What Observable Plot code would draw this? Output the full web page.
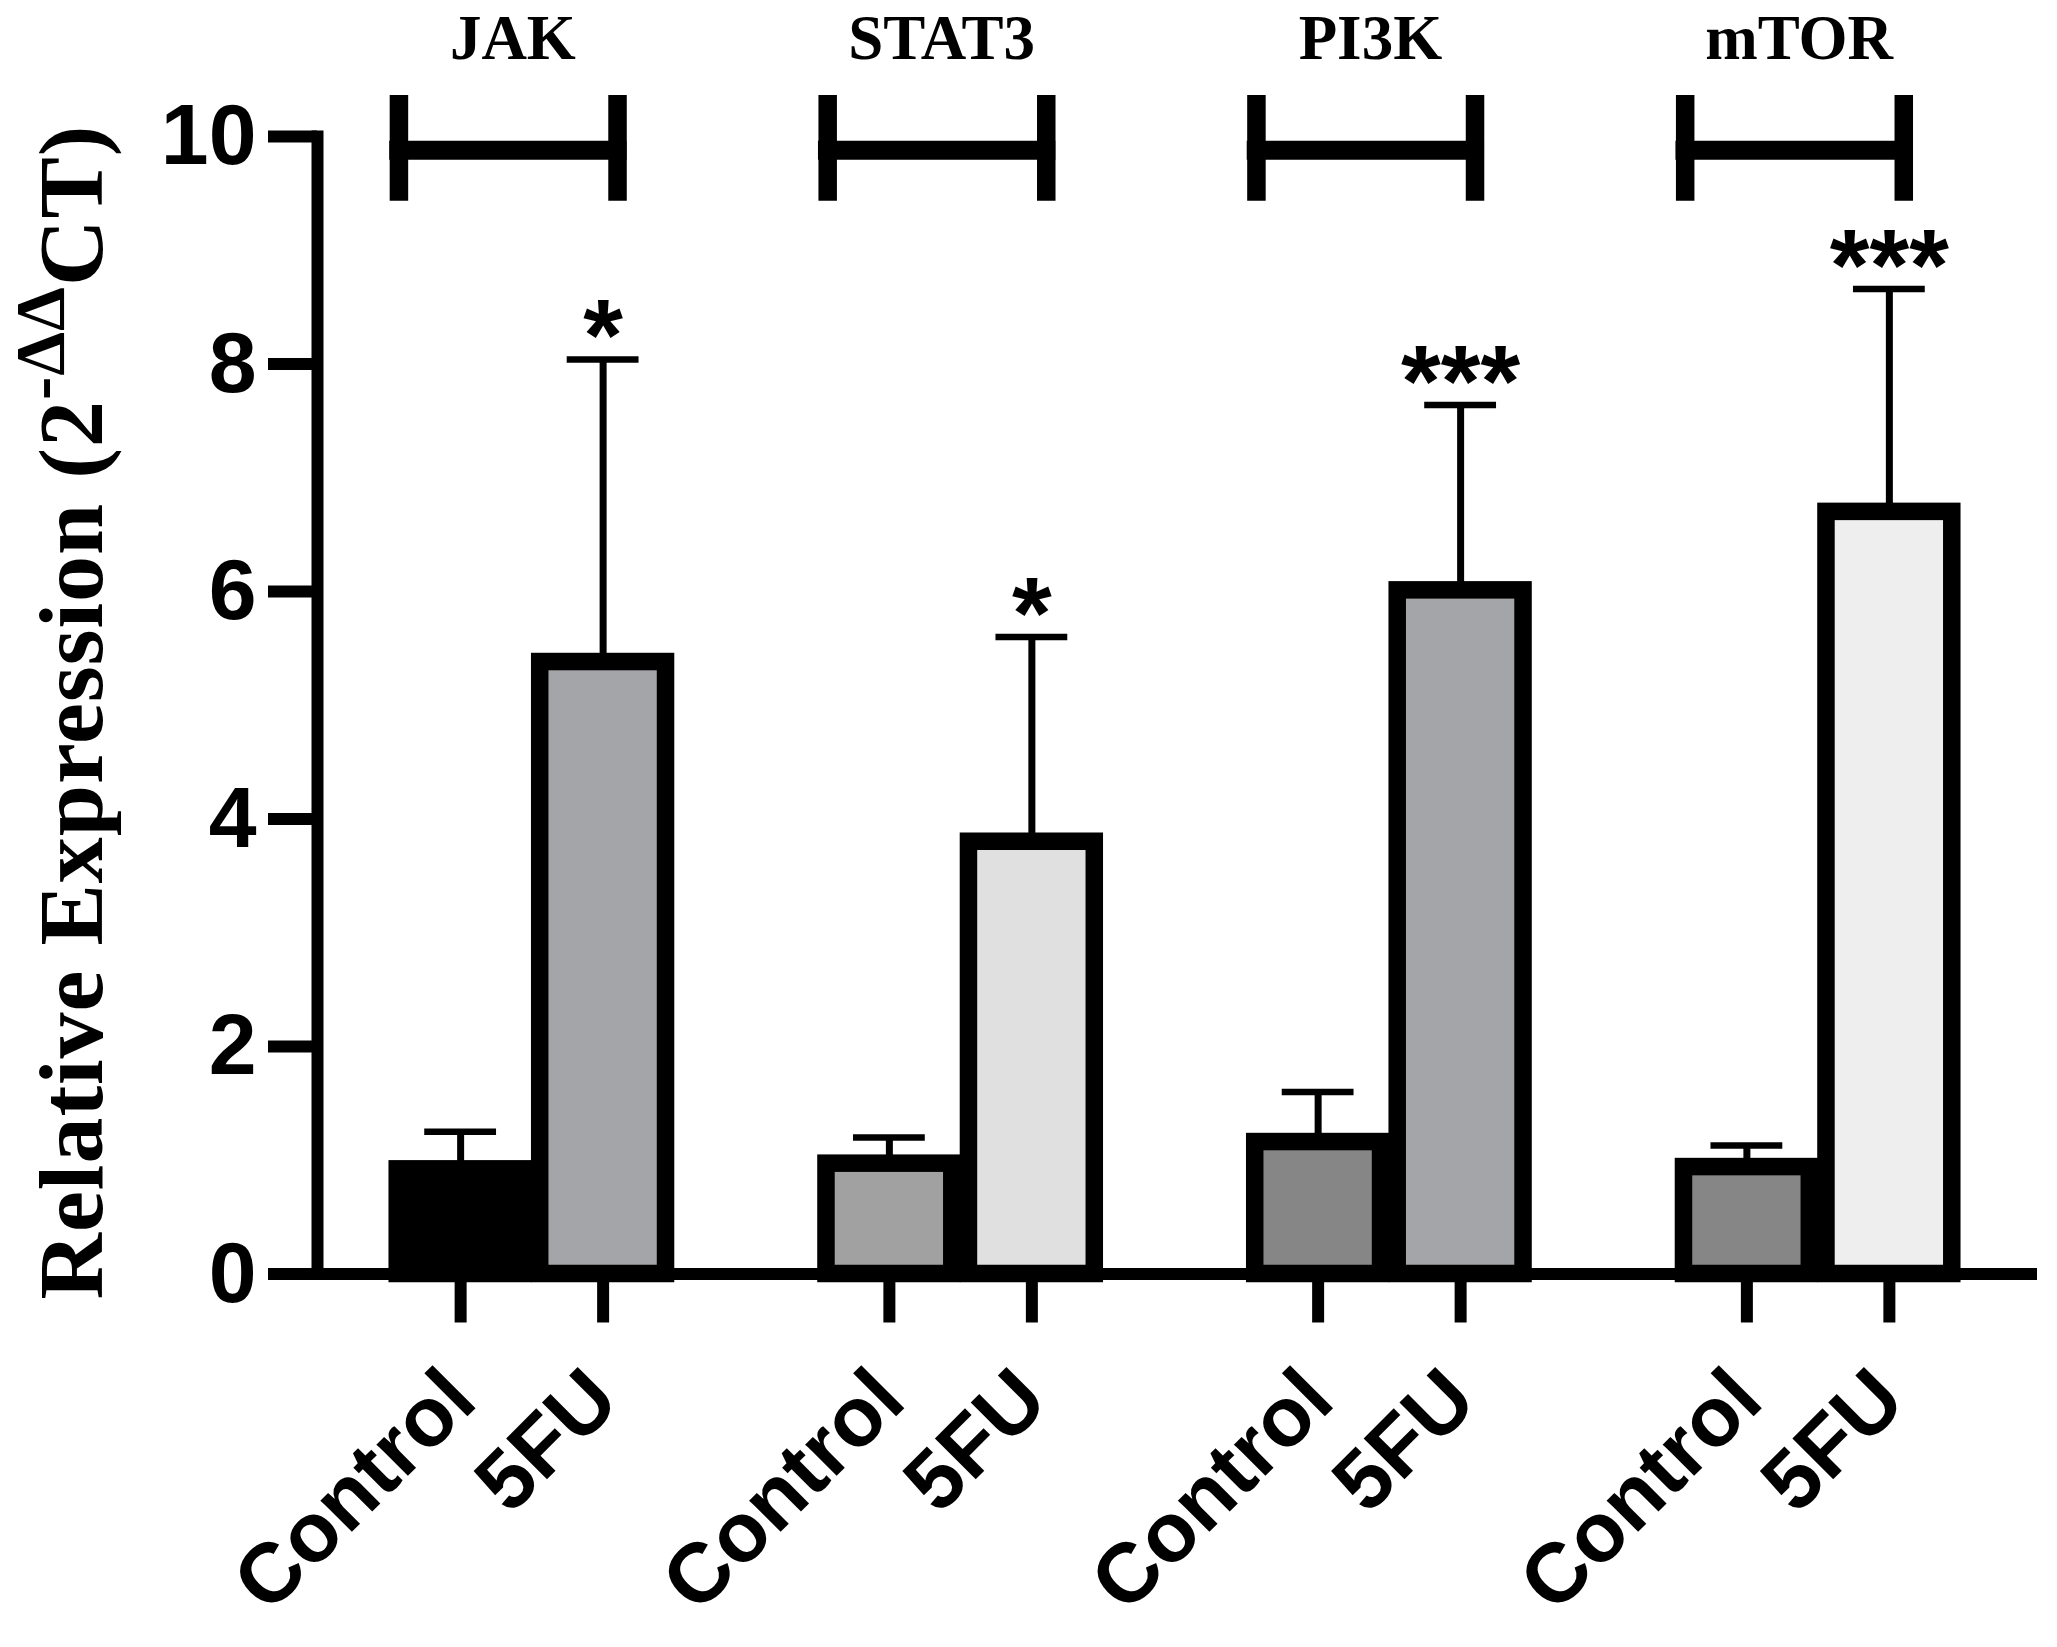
<!DOCTYPE html>
<html><head><meta charset="utf-8">
<script src="https://cdn.jsdelivr.net/npm/d3@7"></script>
<script src="https://cdn.jsdelivr.net/npm/@observablehq/plot@0.6"></script>
<style>html,body{margin:0;padding:0;background:#fff}</style>
</head><body><div id="chart"></div>
<script>
// ---- data ----
const genes = ["JAK", "STAT3", "PI3K", "mTOR"];
const treatments = ["Control", "5FU"];
const controlMean = [0.92, 0.97, 1.16, 0.94];
const controlSEM = [0.33, 0.23, 0.44, 0.19];
const fuMean = [5.38, 3.80, 6.01, 6.70];
const fuSEM = [2.66, 1.80, 1.63, 1.96];
const significance = ["*", "*", "***", "***"];
const yTicks = [0, 2, 4, 6, 8, 10];
const yLabelMain = "Relative Expression (2";
const yLabelSup = "-ΔΔ";
const yLabelEnd = "CT)";

// ---- styles ----
const barFills = ["#000000", "#a4a5a8", "#a1a1a1", "#e0e0e0", "#868686", "#a4a5a8", "#868686", "#eeeeee"];
const sans = "'Liberation Sans', Arial, Helvetica, sans-serif";
const serif = "'Liberation Serif', 'Times New Roman', Times, serif";
const bracketLevel = 9.88, bracketTop = 10.36, bracketBottom = 9.43;

const rows = genes.flatMap((gene, i) => [
  {gene, treatment: "Control", mean: controlMean[i], sem: controlSEM[i], key: gene + " Control"},
  {gene, treatment: "5FU", mean: fuMean[i], sem: fuSEM[i], key: gene + " 5FU", sig: significance[i]}
]);
const fuRows = rows.filter(d => d.treatment === "5FU");
const errTop = d => d.mean + d.sem;

const chart = Plot.plot({
  width: 2057,
  height: 1647,
  marginLeft: 317,
  marginRight: 25,
  marginTop: 136,
  marginBottom: 373.5,
  style: {fontFamily: sans, fontWeight: "bold", background: "#fff", color: "#000", overflow: "visible"},
  fx: {domain: genes, paddingInner: 0, paddingOuter: 0, round: false, axis: null},
  x: {domain: treatments, paddingInner: 0.117, paddingOuter: 0.563, round: false, axis: null},
  y: {domain: [0, 10], axis: null},
  color: {type: "ordinal", domain: rows.map(d => d.key), range: barFills},
  marks: [
    Plot.ruleY([0], {strokeWidth: 12, insetRight: -5}),
    Plot.frame({anchor: "left", strokeWidth: 12, strokeLinecap: "square", facetAnchor: "left"}),
    Plot.axisY({ticks: yTicks, tickSize: 49, tickPadding: 12, strokeWidth: 12, fontSize: 86, fontFamily: sans, fontWeight: "bold", label: null}),
    Plot.axisX({tickSize: 49, tickPadding: 62, strokeWidth: 12, tickRotate: -45, fontSize: 84, fontFamily: sans, fontWeight: "bold", label: null}),
    Plot.axisFx({anchor: "top", tickSize: 0, tickPadding: 78, fontSize: 63, fontFamily: serif, fontWeight: "bold", dx: -19, label: null}),
    // group brackets
    Plot.ruleY(genes, {fx: d => d, x1: () => "Control", x2: () => "5FU", y: () => bracketLevel, strokeWidth: 19, insetLeft: -8, insetRight: 39}),
    Plot.ruleX(genes, {fx: d => d, x: () => "Control", y1: () => bracketTop, y2: () => bracketBottom, strokeWidth: 18.5, dx: -61.7}),
    Plot.ruleX(genes, {fx: d => d, x: () => "5FU", y1: () => bracketTop, y2: () => bracketBottom, strokeWidth: 18.5, dx: 14.4}),
    // error bars (upper)
    Plot.ruleX(rows, {fx: "gene", x: "treatment", y1: "mean", y2: errTop, strokeWidth: 7}),
    Plot.tickY(rows, {fx: "gene", x: "treatment", y: errTop, strokeWidth: 6.5, inset: 27}),
    // bars
    Plot.barY(rows, {fx: "gene", x: "treatment", y: "mean", fill: "key", stroke: "#000", strokeWidth: 17.5}),
    // significance stars
    Plot.text(fuRows, {fx: "gene", x: "treatment", y: errTop, text: "sig", fontSize: 102, fontFamily: sans, fontWeight: "bold", lineAnchor: "bottom", dy: 11})
  ]
});

// y-axis title with superscript
const svg = d3.select(chart);
const lab = svg.append("text")
  .attr("transform", "translate(102,712) rotate(-90)")
  .attr("text-anchor", "middle")
  .attr("fill", "#000")
  .style("font-family", serif)
  .style("font-weight", "bold")
  .style("font-size", "92px")
  .style("letter-spacing", "1px");
lab.append("tspan").text(yLabelMain);
lab.append("tspan").attr("dy", -38).style("font-size", "70px").text(yLabelSup);
lab.append("tspan").attr("dy", 38).text(yLabelEnd);

document.getElementById("chart").appendChild(chart);
</script>
</body></html>
